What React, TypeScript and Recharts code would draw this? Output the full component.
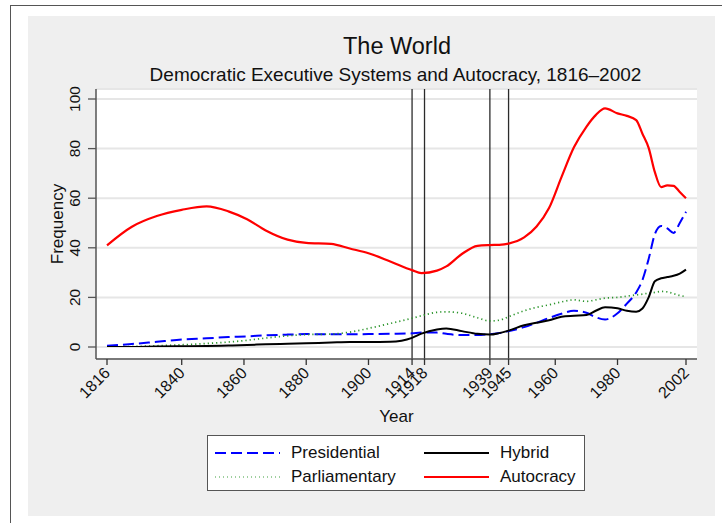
import React from 'react';
import { LineChart, Line, XAxis, YAxis, CartesianGrid, ReferenceLine, Legend, Label } from 'recharts';

const FONT = '"Liberation Sans", Arial, Helvetica, sans-serif';

// Smoothed yearly frequencies of executive systems, 1816–2002
const years = [
  1816, 1824, 1832, 1840, 1848, 1855, 1861, 1867, 1874, 1880, 1888, 1894, 1900, 1907,
  1914, 1917, 1922, 1925, 1930, 1935, 1939, 1942, 1945, 1950, 1954, 1958, 1962, 1966,
  1970, 1973, 1976, 1980, 1983, 1986, 1988, 1990, 1992, 1994, 1996, 1998, 2000, 2002,
];

const presidential = [
  0.5, 1.2, 2.1, 3.0, 3.5, 4.0, 4.3, 4.7, 5.0, 5.2, 5.1, 5.1, 5.2, 5.3,
  5.5, 5.8, 5.8, 5.3, 4.8, 4.8, 5.2, 5.6, 6.4, 8.0, 9.8, 11.7, 13.4, 14.6,
  13.8, 12.0, 11.1, 13.6, 17.5, 22.0, 27.0, 35.5, 45.5, 48.8, 47.8, 46.0, 50.0, 54.5,
];

const parliamentary = [
  0.0, 0.2, 0.5, 0.9, 1.4, 2.0, 2.7, 3.6, 4.5, 5.0, 5.2, 6.0, 7.5, 9.5,
  11.6, 12.6, 14.0, 14.2, 13.6, 11.8, 10.5, 10.8, 12.2, 14.6, 16.0, 17.0, 18.2, 19.0,
  18.4, 19.0, 19.7, 20.0, 20.5, 21.0, 21.3, 21.7, 22.0, 22.4, 22.2, 21.5, 20.8, 20.3,
];

const hybrid = [
  0.0, 0.0, 0.2, 0.3, 0.4, 0.6, 0.8, 1.1, 1.3, 1.5, 1.8, 2.0, 2.0, 2.1,
  3.7, 5.4, 7.1, 7.5, 6.4, 5.3, 5.0, 5.6, 6.6, 8.8, 9.8, 10.8, 12.2, 12.6,
  12.9, 14.6, 16.0, 15.6, 14.6, 14.2, 15.5, 20.0, 26.5, 27.7, 28.2, 28.7, 29.6, 31.2,
];

const autocracy = [
  41.0, 48.5, 52.8, 55.3, 56.7, 54.7, 51.5, 47.0, 43.3, 42.0, 41.6, 39.7, 37.8, 34.5,
  31.0, 29.8, 30.8, 32.5, 37.5, 40.8, 41.1, 41.2, 41.7, 44.2, 48.6, 56.0, 68.5, 80.5,
  88.8, 93.5, 96.2, 94.2, 93.2, 91.5, 86.0, 80.3, 70.5, 64.5, 65.2, 65.0, 62.5, 60.0,
];

const xTicks = [1816, 1840, 1860, 1880, 1900, 1914, 1918, 1939, 1945, 1960, 1980, 2002];
const yTicks = [0, 20, 40, 60, 80, 100];
const warYears = [1914, 1918, 1939, 1945];

const series = [
  { key: 'presidential', name: 'Presidential', color: '#0000ff', dash: '11 5', width: 2 },
  { key: 'parliamentary', name: 'Parliamentary', color: '#2a942a', dash: '1.2 3', width: 1.7 },
  { key: 'hybrid', name: 'Hybrid', color: '#000000', dash: undefined, width: 2 },
  { key: 'autocracy', name: 'Autocracy', color: '#ff0000', dash: undefined, width: 2.2 },
];

const data = years.map((year, i) => ({
  year,
  presidential: presidential[i],
  parliamentary: parliamentary[i],
  hybrid: hybrid[i],
  autocracy: autocracy[i],
}));

const XTick = (props: any) => {
  const { x, y, payload } = props;
  const ax = x + 4;
  const ay = y + 9;
  return (
    <text x={ax} y={ay} transform={`rotate(-45, ${ax}, ${ay})`} textAnchor="end"
      fontSize={16} fill="#111" fontFamily={FONT}>
      {payload.value}
    </text>
  );
};

const YTick = (props: any) => {
  const { x, y, payload } = props;
  const ax = x - 8;
  return (
    <text x={ax} y={y} transform={`rotate(-90, ${ax}, ${y})`} textAnchor="middle"
      fontSize={15.5} fill="#111" fontFamily={FONT}>
      {payload.value}
    </text>
  );
};

const LegendBox = () => {
  // two columns, filled column by column
  const cols = [series.slice(0, 2), series.slice(2, 4)];
  return (
    <div style={{
      width: 378, height: 56, boxSizing: 'border-box', background: '#fff',
      border: '1.5px solid #555', position: 'relative', fontFamily: FONT,
    }}>
      {cols.map((col, ci) => col.map((s, ri) => (
        <div key={s.key} style={{
          position: 'absolute', left: ci === 0 ? 6 : 215, top: ri === 0 ? 5 : 29,
          height: 24, display: 'flex', alignItems: 'center',
        }}>
          <svg width={66} height={6} style={{ display: 'block' }}>
            <line x1={1} y1={3} x2={66} y2={3} stroke={s.color}
              strokeWidth={s.key === 'parliamentary' ? 1.4 : 1.8}
              strokeDasharray={s.key === 'parliamentary' ? '1 3' : s.dash}
              strokeOpacity={s.key === 'parliamentary' ? 0.6 : 1} />
          </svg>
          <span style={{ marginLeft: 11, fontSize: 17, color: '#111', lineHeight: '24px' }}>{s.name}</span>
        </div>
      )))}
    </div>
  );
};

export default function App() {
  return (
    <div style={{
      position: 'absolute', left: 0, top: 0, width: 722, height: 523,
      overflow: 'hidden', background: '#fff', fontFamily: FONT,
    }}>
      <div style={{
        position: 'absolute', left: 10, top: 5, width: 740, height: 540,
        border: '1.5px solid #555', boxSizing: 'border-box',
      }} />
      <div style={{
        position: 'absolute', left: 28, top: 16, width: 687, height: 500, background: '#efefef',
      }} />
      <div style={{ position: 'absolute', left: 0, top: 0 }}>
        <LineChart width={722} height={523} data={data}
          margin={{ top: 89, right: 25, bottom: 134, left: 56 }}>
          <CartesianGrid vertical={false} horizontal fill="#ffffff" stroke="#e6e6e6" strokeWidth={2} />
          <XAxis dataKey="year" type="number" domain={[1816, 2002]} ticks={xTicks} interval={0}
            padding={{ left: 11, right: 11 }} height={30} tickSize={6} tickMargin={0}
            axisLine={{ stroke: '#555', strokeWidth: 1.5 }} tickLine={{ stroke: '#333', strokeWidth: 1.3 }}
            tick={<XTick />}>
            <Label content={() => (
              <text x={396.5} y={422} textAnchor="middle" fontSize={17} fill="#111" fontFamily={FONT}>Year</text>
            )} />
          </XAxis>
          <YAxis type="number" domain={[0, 100]} ticks={yTicks} interval={0} allowDataOverflow
            padding={{ top: 10, bottom: 12 }} width={40} tickSize={8} tickMargin={0}
            axisLine={{ stroke: '#555', strokeWidth: 1.5 }} tickLine={{ stroke: '#555', strokeWidth: 1.3 }}
            tick={<YTick />}>
            <Label content={() => (
              <text x={63} y={224} transform="rotate(-90, 63, 224)" textAnchor="middle"
                fontSize={17} fill="#111" fontFamily={FONT}>Frequency</text>
            )} />
          </YAxis>
          {warYears.map((yr) => (
            <ReferenceLine key={yr} x={yr} stroke="#2b2b2b" strokeWidth={1.3} />
          ))}
          {series.map((s) => (
            <Line key={s.key} dataKey={s.key} name={s.name} type="monotone" stroke={s.color}
              strokeWidth={s.width} strokeDasharray={s.dash} dot={false} isAnimationActive={false} />
          ))}
          <Legend layout="horizontal" verticalAlign="middle" align="center" content={<LegendBox />}
            wrapperStyle={{ position: 'absolute', left: 207, top: 435, width: 378, height: 56 }} />
        </LineChart>
      </div>
      <svg width={722} height={100} style={{ position: 'absolute', left: 0, top: 0, pointerEvents: 'none' }}>
        <text x={397} y={54} textAnchor="middle" fontSize={23.5} fill="#111" fontFamily={FONT}>The World</text>
        <text x={395.5} y={81} textAnchor="middle" fontSize={19} fill="#111" fontFamily={FONT}>
          Democratic Executive Systems and Autocracy, 1816–2002
        </text>
      </svg>
    </div>
  );
}
